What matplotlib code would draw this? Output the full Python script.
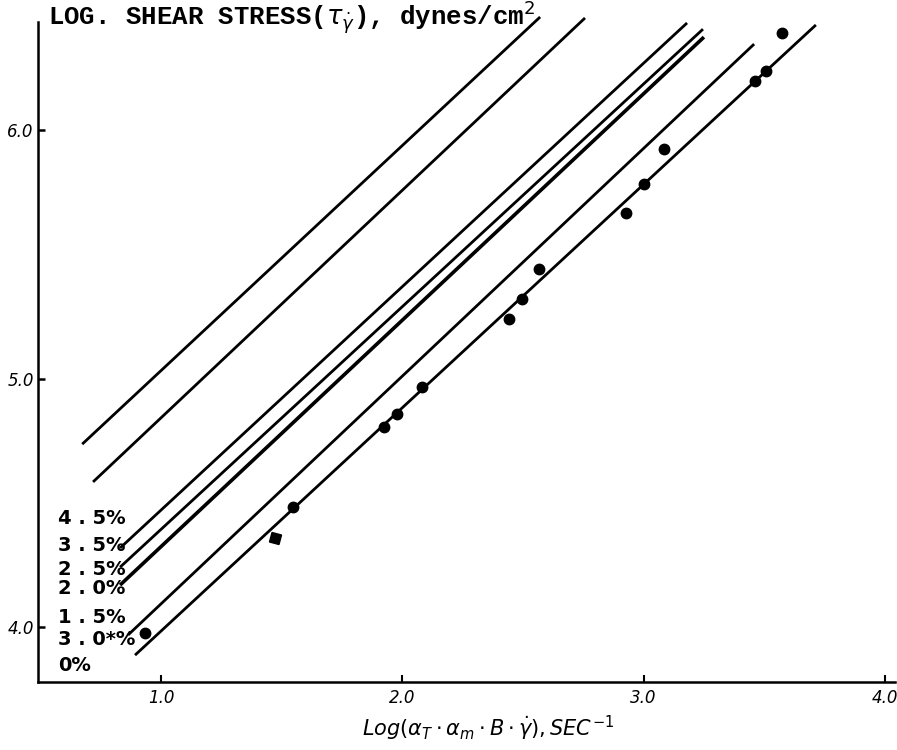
import matplotlib.pyplot as plt
import numpy as np

# straight lines, read as (start, end) in data units, top to bottom
line_x0 = [0.673, 0.718, 0.830, 0.830, 0.830, 0.863, 0.892]
line_y0 = [4.736, 4.584, 4.318, 4.241, 4.169, 3.968, 3.887]
line_x1 = [2.571, 2.757, 3.180, 3.246, 3.250, 3.458, 3.714]
line_y1 = [6.455, 6.451, 6.431, 6.406, 6.374, 6.346, 6.423]
line_w = [2.0, 2.0, 2.0, 2.0, 2.6, 2.0, 2.0]

# measured points
pts_x = [0.934, 1.547, 1.924, 1.978, 2.082, 2.442, 2.496, 2.567,
         2.927, 3.002, 3.085, 3.462, 3.507, 3.574]
pts_y = [3.976, 4.483, 4.805, 4.857, 4.966, 5.239, 5.320, 5.441,
         5.666, 5.783, 5.924, 6.197, 6.237, 6.390]
sq_x = [1.472]
sq_y = [4.358]

labels = ["4 . 5%", "3 . 5%", "2 . 5%", "2 . 0%", "1 . 5%", "3 . 0*%", "0%"]
label_y = [4.435, 4.330, 4.233, 4.157, 4.040, 3.948, 3.847]

xticks = [1.0, 2.0, 3.0, 4.0]
yticks = [4.0, 5.0, 6.0]

plt.rcParams['mathtext.fontset'] = 'dejavusans'

fig = plt.figure(figsize=(8.97, 7.5), dpi=100)
ax = fig.add_axes([0.0424, 0.0907, 0.9554, 0.8893])
ax.set_xlim(0.490, 4.042)
ax.set_ylim(3.779, 6.463)

for i in range(len(line_x0)):
    ax.plot([line_x0[i], line_x1[i]], [line_y0[i], line_y1[i]],
            color='black', lw=line_w[i], solid_capstyle='butt')

ax.plot(pts_x, pts_y, 'o', color='black', ms=7.5)
ax.plot(sq_x, sq_y, marker=(4, 0, 30), ls='none', color='black', ms=10)

for t, y in zip(labels, label_y):
    ax.text(0.573, y, t, fontsize=14, fontweight='bold', ha='left', va='center')

for s in ['top', 'right']:
    ax.spines[s].set_visible(False)
ax.spines['left'].set_linewidth(1.8)
ax.spines['bottom'].set_linewidth(1.8)
ax.spines['left'].set_bounds(3.779, 6.435)

ax.set_xticks(xticks)
ax.set_xticklabels(['%.1f' % v for v in xticks], fontstyle='italic', fontsize=12)
ax.set_yticks(yticks)
ax.set_yticklabels(['%.1f' % v for v in yticks], fontstyle='italic', fontsize=12)
ax.tick_params(axis='x', direction='in', length=5, width=1.5, pad=5)
ax.tick_params(axis='y', direction='in', length=5, width=1.8, pad=3)

fig.text(48 / 897, 1 - 17 / 750,
         r"LOG. SHEAR STRESS($\tau_{\dot{\gamma}}$), dynes/cm$^2$",
         family='Liberation Mono', fontweight='bold', fontsize=18.5,
         ha='left', va='center')

fig.text(488 / 897, 1 - 728 / 750,
         r"$Log(\alpha_T\cdot\alpha_m\cdot B\cdot\dot{\gamma}),SEC^{-1}$",
         fontsize=15, ha='center', va='center')

fig.savefig('out.png', dpi=100, facecolor='white')
